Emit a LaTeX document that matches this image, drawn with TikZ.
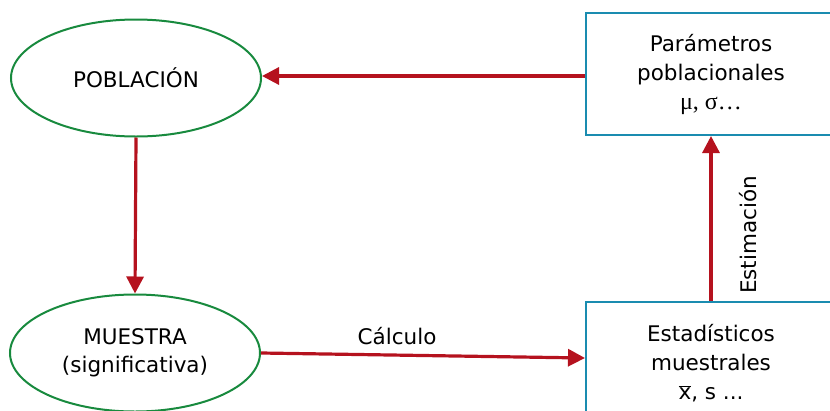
\documentclass[tikz,border=0pt]{standalone}
\usepackage{fontspec}
\setmainfont{DejaVu Sans}
\newfontfamily\greekserif{Liberation Serif}
\usetikzlibrary{shapes.geometric,arrows.meta}
\definecolor{arrred}{HTML}{B5121E}
\definecolor{ellgreen}{HTML}{188A3E}
\definecolor{boxblue}{HTML}{1A8CB0}
\tikzset{
  ellnode/.style={ellipse, draw=ellgreen, line width=2pt, minimum width=250pt, minimum height=117pt, inner sep=0pt, align=center, font=\fontsize{21.5}{28}\selectfont},
  boxnode/.style={rectangle, draw=boxblue, line width=2pt, minimum width=250pt, minimum height=122pt, inner sep=0pt, align=center, font=\fontsize{21.5}{29}\selectfont},
  conn/.style={draw=arrred, line width=3.2pt, -{Triangle[length=17pt,width=17pt]}},
  lbl/.style={font=\fontsize{21.5}{24}\selectfont, inner sep=0pt}
}
\begin{document}
\begin{tikzpicture}[x=1pt,y=-1pt]
\useasboundingbox (0,0) rectangle (830,410);
\clip (0,0) rectangle (830,410);
\node[ellnode] (pob) at (136,78) {POBLACIÓN};
\node[ellnode] (mue) at (135,353) {MUESTRA\\(significativa)};
\node[boxnode] (par) at (711,74) {Parámetros\\poblacionales\\{\greekserif\fontsize{24}{29}\selectfont μ, σ…}};
\node[boxnode] (est) at (711,363) {Estadísticos\\muestrales\\$\overline{\mbox{x}}$, s ...};
\coordinate (calcend) at ([yshift=5pt]est.west);
\draw[conn] (par.west |- 0,76) -- (pob.east |- 0,76);
\draw[conn] (pob.south) -- (mue.north);
\draw[conn] (mue.east) -- node[lbl, pos=0.42, above=9pt] (calc) {Cálculo} (calcend);
\draw[conn] (est.north) -- node[lbl, pos=0.4, xshift=37pt, rotate=90] (estim) {Estimación} (par.south);
\end{tikzpicture}
\end{document}
